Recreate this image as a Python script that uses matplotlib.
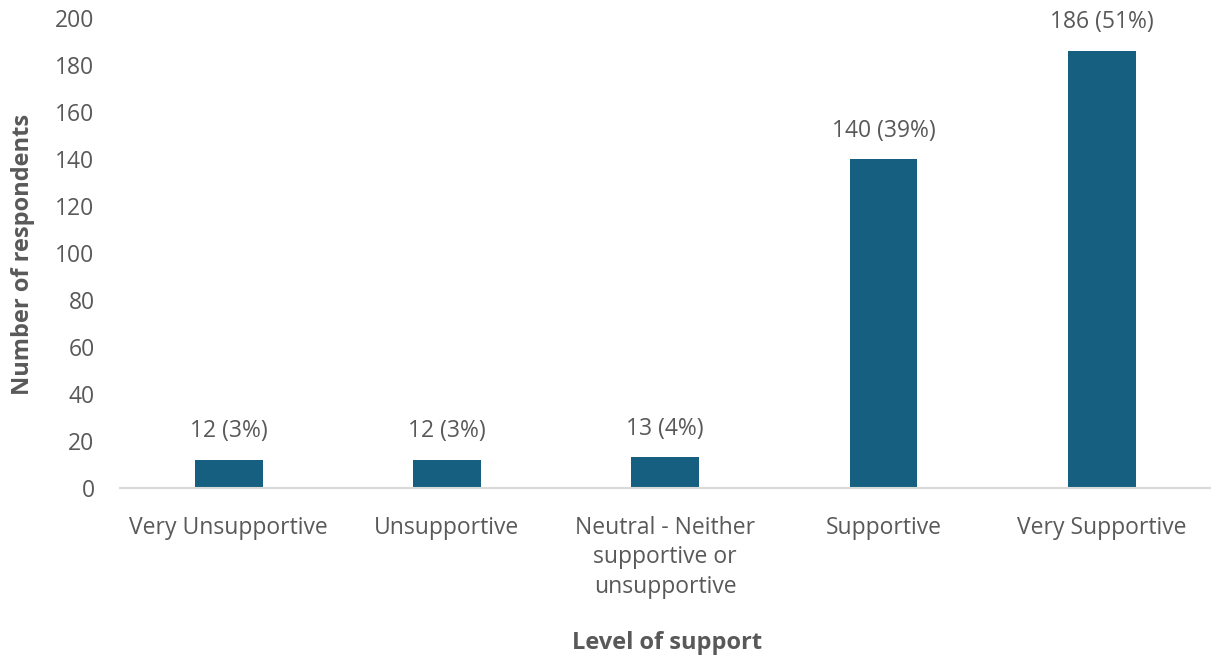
import matplotlib
matplotlib.use("Agg")
import matplotlib.pyplot as plt
import numpy as np

plt.rcParams['font.family'] = ['Open Sans', 'DejaVu Sans']

categories = ['Very Unsupportive', 'Unsupportive', 'Neutral - Neither\nsupportive or\nunsupportive',
              'Supportive', 'Very Supportive']
counts = [12, 12, 13, 140, 186]
percents = [3, 3, 4, 39, 51]

text_col = '#595959'
bar_col = '#165F80'
W, H = 1211, 660

fig = plt.figure(figsize=(12.11, 6.6), dpi=100)
ax = fig.add_axes([0.0987, 0.2606, 0.9013, 0.7121])

x = np.arange(len(categories))
ax.bar(x, counts, width=0.31, color=bar_col)
for i, (c, p) in enumerate(zip(counts, percents)):
    ax.text(i, c + 7, '{} ({}%)'.format(c, p), ha='center', va='bottom',
            fontsize=16.5, color=text_col)

ax.set_xlim(-0.5, len(categories) - 0.5)
ax.set_ylim(0, 200)
ax.set_yticks(range(0, 201, 20))
ax.set_xticks(x)
ax.set_xticklabels(categories, fontsize=16.5, color=text_col, linespacing=1.3)
ax.tick_params(axis='y', labelsize=16.5, labelcolor=text_col, length=0, pad=18)
ax.tick_params(axis='x', length=0, pad=20)
for s in ['top', 'right', 'left']:
    ax.spines[s].set_visible(False)
ax.spines['bottom'].set_color('#D9D9D9')
ax.spines['bottom'].set_linewidth(1.5)

fig.text(667 / W, 1 - 643 / H, 'Level of support', fontsize=17, fontweight='bold',
         color=text_col, ha='center', va='center')
fig.text(23 / W, 1 - 254 / H, 'Number of respondents', fontsize=17, fontweight='bold',
         color=text_col, ha='center', va='center', rotation=90)

fig.savefig('out.png', dpi=100)
